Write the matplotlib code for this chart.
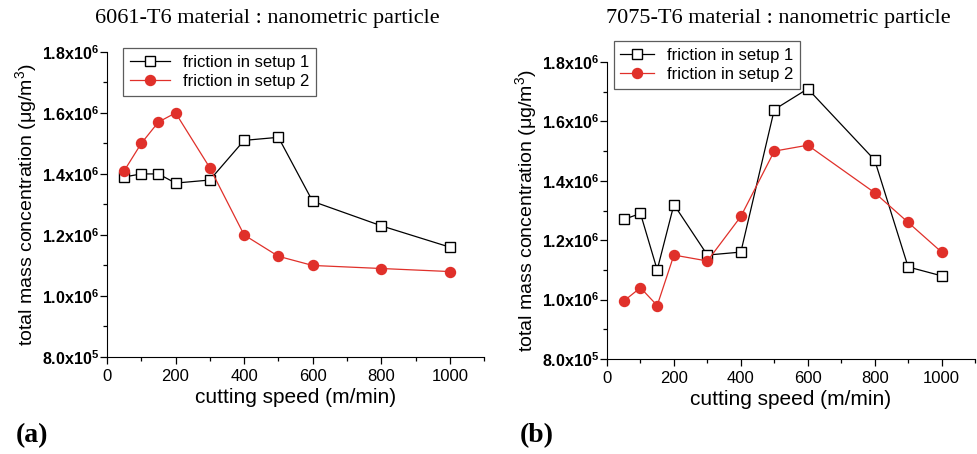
import matplotlib
matplotlib.use('Agg')
import matplotlib.pyplot as plt
from matplotlib.ticker import MultipleLocator, FixedLocator

plt.rcParams['font.family'] = ['Liberation Sans', 'DejaVu Sans']
plt.rcParams['mathtext.fontset'] = 'custom'
plt.rcParams['mathtext.rm'] = 'Liberation Sans'
plt.rcParams['mathtext.it'] = 'Liberation Sans:italic'
plt.rcParams['mathtext.bf'] = 'Liberation Sans:bold'

# panel (a): 6061-T6
speed_a = [50, 100, 150, 200, 300, 400, 500, 600, 800, 1000]
setup1_a = [1.39e6, 1.40e6, 1.40e6, 1.37e6, 1.38e6, 1.51e6, 1.52e6, 1.31e6, 1.23e6, 1.16e6]
setup2_a = [1.41e6, 1.50e6, 1.57e6, 1.60e6, 1.42e6, 1.20e6, 1.13e6, 1.10e6, 1.09e6, 1.08e6]

# panel (b): 7075-T6
speed_b = [50, 100, 150, 200, 300, 400, 500, 600, 800, 900, 1000]
setup1_b = [1.27e6, 1.29e6, 1.10e6, 1.32e6, 1.15e6, 1.16e6, 1.64e6, 1.71e6, 1.47e6, 1.11e6, 1.08e6]
setup2_b = [0.995e6, 1.04e6, 0.98e6, 1.15e6, 1.13e6, 1.28e6, 1.50e6, 1.52e6, 1.36e6, 1.26e6, 1.16e6]

yticks = [8e5, 1.0e6, 1.2e6, 1.4e6, 1.6e6, 1.8e6]
ytick_labels = [r'$\mathbf{8.0x10^5}$', r'$\mathbf{1.0x10^6}$', r'$\mathbf{1.2x10^6}$',
                r'$\mathbf{1.4x10^6}$', r'$\mathbf{1.6x10^6}$', r'$\mathbf{1.8x10^6}$']
legend_names = ['friction in setup 1', 'friction in setup 2']
red = '#e0302a'

fig = plt.figure(figsize=(9.77, 4.54), dpi=100)
ax_a = fig.add_axes([0.1095, 0.2137, 0.386, 0.672])
ax_b = fig.add_axes([0.6213, 0.2093, 0.3767, 0.654])

# axes, series, title, title x, tag, tag x, legend corner, handle length
panels = [
    (ax_a, speed_a, setup1_a, setup2_a, '6061-T6 material : nanometric particle', 0.274,
     '(a)', 0.016, (0.126, 0.894), 2.4),
    (ax_b, speed_b, setup1_b, setup2_b, '7075-T6 material : nanometric particle', 0.797,
     '(b)', 0.532, (0.628, 0.909), 2.0),
]

for ax, sp, s1, s2, title, tx, tag, gx, leg_pos, hl in panels:
    ax.plot(sp, s1, color='black', lw=0.9, marker='s', ms=6.5, mfc='white',
            mec='black', mew=1.0, label=legend_names[0])
    ax.plot(sp, s2, color=red, lw=0.9, marker='o', ms=7.2, mfc=red,
            mec=red, label=legend_names[1])
    ax.set_xlim(0, 1100)
    ax.set_ylim(8e5, 1.8e6)
    ax.spines['top'].set_visible(False)
    ax.spines['right'].set_visible(False)
    ax.xaxis.set_major_locator(FixedLocator([0, 200, 400, 600, 800, 1000]))
    ax.xaxis.set_minor_locator(MultipleLocator(100))
    ax.yaxis.set_major_locator(FixedLocator(yticks))
    ax.yaxis.set_minor_locator(MultipleLocator(1e5))
    ax.set_yticklabels(ytick_labels)
    ax.tick_params(which='both', direction='out', width=0.9)
    ax.tick_params(which='major', length=5)
    ax.tick_params(which='minor', length=3)
    ax.tick_params(axis='x', labelsize=12)
    ax.tick_params(axis='y', labelsize=11.5, pad=1)
    ax.set_xlabel('cutting speed (m/min)', fontsize=15, labelpad=3)
    ax.set_ylabel('total mass concentration (μg/m$^3$)', fontsize=14, labelpad=2)
    fig.text(tx, 0.96, title, family='Liberation Serif', fontsize=16,
             ha='center', va='center')
    leg = ax.legend(loc='upper left', bbox_to_anchor=leg_pos, bbox_transform=fig.transFigure,
                    borderaxespad=0, fontsize=12, frameon=True, fancybox=False,
                    edgecolor='#333333', handlelength=hl, borderpad=0.4, labelspacing=0.25)
    leg.get_frame().set_linewidth(0.9)
    fig.text(gx, 0.04, tag, family='Liberation Serif', fontsize=20, weight='bold',
             va='center')

fig.savefig('out.png', dpi=100)
